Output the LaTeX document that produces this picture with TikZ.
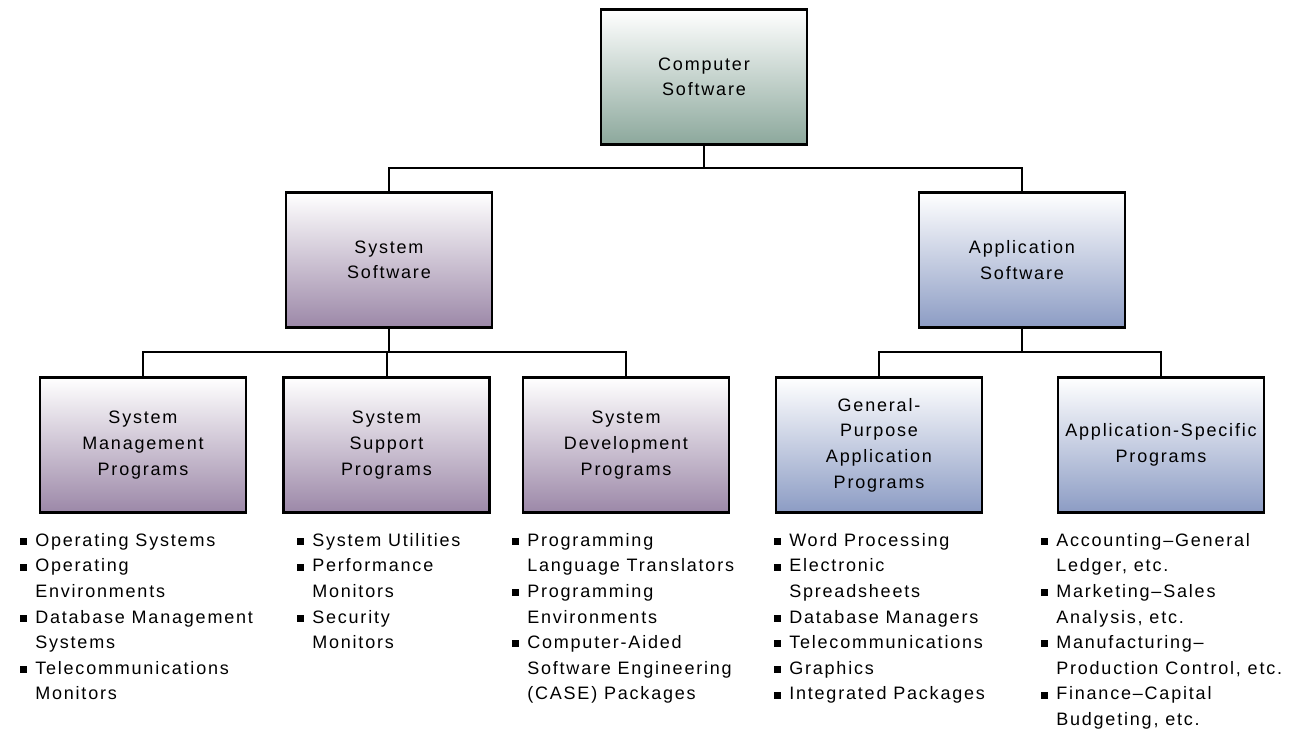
\documentclass[tikz,border=0pt]{standalone}
\usepackage{fontspec}
\setmainfont{Liberation Sans}[LetterSpace=10]
\usetikzlibrary{positioning}
\definecolor{topgreen}{HTML}{8CA89C}
\definecolor{syspurple}{HTML}{9C88A8}
\definecolor{appblue}{HTML}{8C9CC4}
\tikzset{
  box/.style={draw, line width=1.8pt, minimum width=154.5pt, minimum height=101pt,
    inner sep=2pt, align=center, top color=white},
  greenbox/.style={box, bottom color=topgreen},
  purplebox/.style={box, bottom color=syspurple},
  bluebox/.style={box, bottom color=appblue},
  list/.style={anchor=north west, inner sep=0pt, align=left},
  conn/.style={line width=1.5pt}
}
\newcommand{\blt}{\makebox[11.25pt][l]{\rule[1pt]{5.25pt}{5.25pt}}}
\newcommand{\contd}{\hspace*{11.25pt}}

\begin{document}
\begin{tikzpicture}[x=0.75pt, y=-0.75pt,
    every node/.append style={font=\fontsize{13.5}{19.2}\selectfont}]
        \fill[white] (0,0) rectangle (1293,731);
        % Boxes
        \node[greenbox] (cs) at (704,77) {Computer\\Software};
        \node[purplebox] (ss) at (389,260) {System\\Software};
        \node[bluebox] (as) at (1022,260) {Application\\Software};
        \node[purplebox] (sm) at (143,445) {System\\Management\\Programs};
        \node[purplebox] (sp) at (386.5,445) {System\\Support\\Programs};
        \node[purplebox] (sd) at (626,445) {System\\Development\\Programs};
        \node[bluebox] (gp) at (879,445) {General-\\Purpose\\Application\\Programs};
        \node[bluebox] (ap) at (1161,445) {Application-Specific\\Programs};
        % Connectors
        \coordinate (topbus) at (704,168);
        \coordinate (sysbus) at (389,352);
        \coordinate (appbus) at (1022,352);
        \draw[conn] (cs.south) -- (topbus) -| (ss.north);
        \draw[conn] (topbus) -| (as.north);
        \draw[conn] (ss.south) -- (sysbus);
        \draw[conn] (as.south) -- (appbus);
        \foreach \n in {sm,sp,sd} \draw[conn] (sysbus) -| (\n.north);
        \foreach \n in {gp,ap} \draw[conn] (appbus) -| (\n.north);
        % Lists below the boxes
        \node[list] (smlist) at (20,533) {\blt Operating Systems\\ \blt Operating\\ \contd Environments\\
          \blt Database Management\\ \contd Systems\\ \blt Telecommunications\\ \contd Monitors};
        \node[list] (splist) at (297,533) {\blt System Utilities\\ \blt Performance\\ \contd Monitors\\
          \blt Security\\ \contd Monitors};
        \node[list] (sdlist) at (512,533) {\blt Programming\\ \contd Language Translators\\ \blt Programming\\
          \contd Environments\\ \blt Computer-Aided\\ \contd Software Engineering\\ \contd (CASE) Packages};
        \node[list] (gplist) at (774,533) {\blt Word Processing\\ \blt Electronic\\ \contd Spreadsheets\\
          \blt Database Managers\\ \blt Telecommunications\\ \blt Graphics\\ \blt Integrated Packages};
        \node[list] (aplist) at (1041,533) {\blt Accounting--General\\ \contd Ledger, etc.\\ \blt Marketing--Sales\\
          \contd Analysis, etc.\\ \blt Manufacturing--\\ \contd Production Control, etc.\\
          \blt Finance--Capital\\ \contd Budgeting, etc.};
    \end{tikzpicture}
\end{document}
